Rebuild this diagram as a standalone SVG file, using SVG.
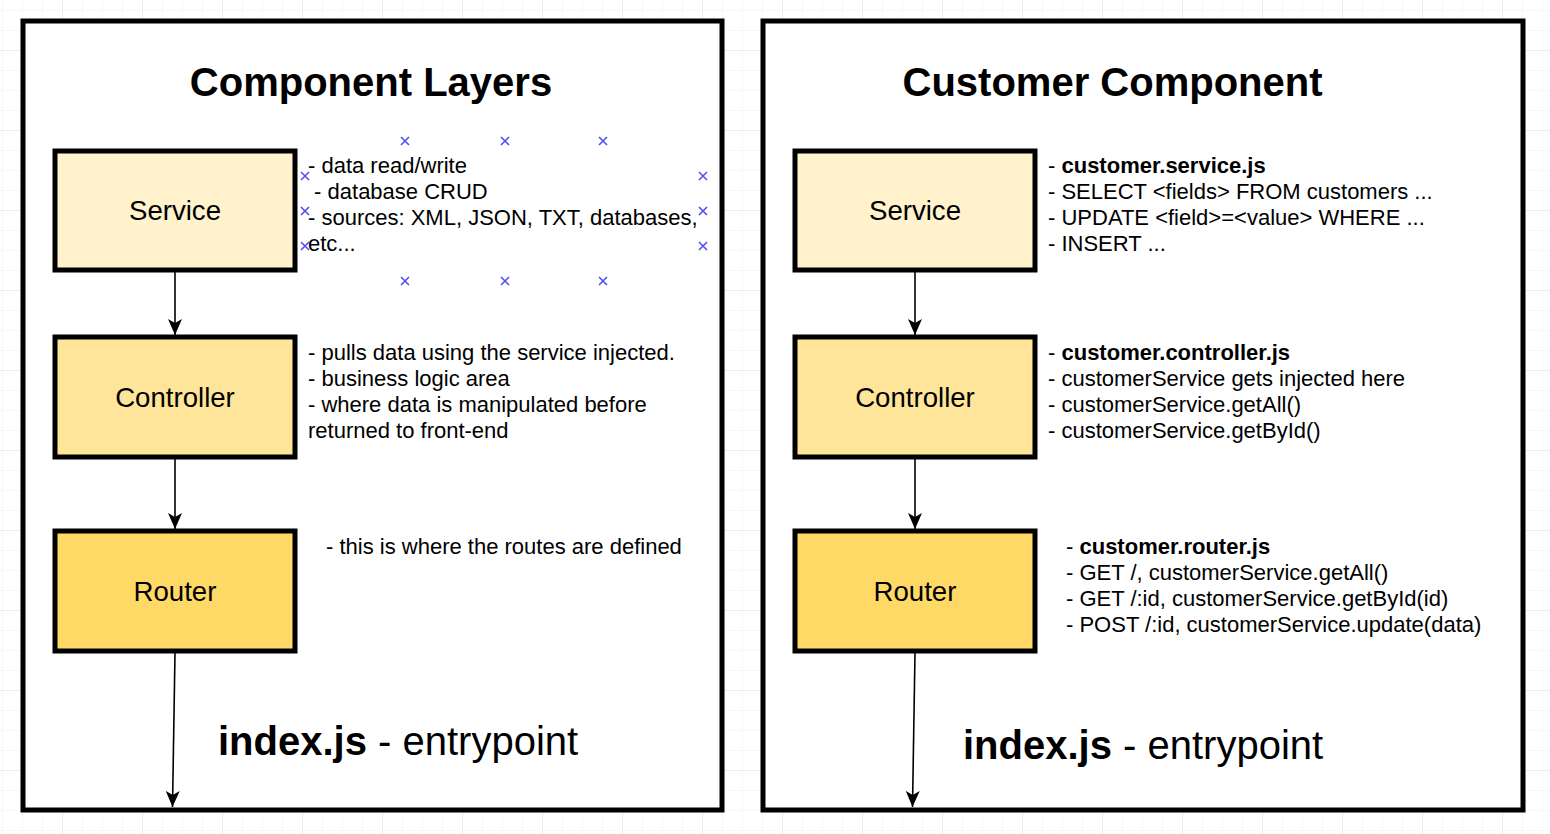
<svg xmlns="http://www.w3.org/2000/svg" width="1550" height="834" viewBox="0 0 1550 834">
<style>
  .frame { fill: #ffffff; stroke: #000000; stroke-width: 5; }
  .box { stroke: #000000; stroke-width: 5; }
  .svc { fill: #fff2cc; }
  .ctl { fill: #ffe599; }
  .rtr { fill: #ffd966; }
  text { font-family: "Liberation Sans", Arial, Helvetica, sans-serif; fill: #000000; }
  .title { font-size: 40px; font-weight: bold; text-anchor: middle; }
  .lbl { font-size: 27.6px; text-anchor: middle; }
  .desc { font-size: 22px; }
  .entry { font-size: 40px; }
  .b { font-weight: bold; }
  .conn { fill: none; stroke: #000000; stroke-width: 1.6; }
  .handle { fill: none; stroke: #4e4ef2; stroke-width: 1.6; }
</style>
<defs>
  <pattern id="gridMinor" patternUnits="userSpaceOnUse" x="2" y="10" width="20" height="20">
    <path d="M0,0 H20 M0,0 V20" fill="none" stroke="#f0f0f0" stroke-width="1"/>
  </pattern>
  <pattern id="gridMajor" patternUnits="userSpaceOnUse" x="62" y="50" width="80" height="80">
    <path d="M0,0 H80 M0,0 V80" fill="none" stroke="#e2e2e2" stroke-width="1"/>
  </pattern>
  <marker id="arrow" markerUnits="userSpaceOnUse" markerWidth="16" markerHeight="16" viewBox="0 0 16 16" refX="16" refY="8" orient="auto">
    <path d="M0,1 L16,8 L0,15 L4,8 Z" fill="#000000"/>
  </marker>
</defs>

<rect x="0" y="0" width="1550" height="834" fill="#ffffff"/>
<rect x="0" y="0" width="1550" height="834" fill="url(#gridMinor)"/>
<rect x="0" y="0" width="1550" height="834" fill="url(#gridMajor)"/>

<g id="frame-left">
  <rect class="frame" x="23" y="21" width="699" height="789"/>
  <text class="title" x="371" y="96">Component Layers</text>
</g>
<g id="frame-right">
  <rect class="frame" x="763" y="21" width="760" height="789"/>
  <text class="title" x="1112.5" y="96">Customer Component</text>
</g>

<g id="connectors">
  <path class="conn" d="M175,272 L175,335" marker-end="url(#arrow)"/>
  <path class="conn" d="M175,459 L175,529" marker-end="url(#arrow)"/>
  <path class="conn" d="M175,653 L172.5,807" marker-end="url(#arrow)"/>
  <path class="conn" d="M915,272 L915,335" marker-end="url(#arrow)"/>
  <path class="conn" d="M915,459 L915,529" marker-end="url(#arrow)"/>
  <path class="conn" d="M915,653 L912.5,807" marker-end="url(#arrow)"/>
</g>

<g id="service-left">
  <rect class="box svc" x="55" y="151" width="240" height="119"/>
  <text class="lbl" x="175" y="220">Service</text>
</g>
<g id="controller-left">
  <rect class="box ctl" x="55" y="337" width="240" height="120"/>
  <text class="lbl" x="175" y="407">Controller</text>
</g>
<g id="router-left">
  <rect class="box rtr" x="55" y="531" width="240" height="120"/>
  <text class="lbl" x="175" y="601">Router</text>
</g>

<g id="service-left-notes">
  <text class="desc" x="308" y="173">- data read/write</text>
  <text class="desc" x="308" y="199" xml:space="preserve"> - database CRUD</text>
  <text class="desc" x="308" y="225">- sources: XML, JSON, TXT, databases,</text>
  <text class="desc" x="308" y="251">etc...</text>
  <g id="selection-handles">
    <path class="handle" d="M401,137 l8,8 m0,-8 l-8,8"/>
    <path class="handle" d="M501,137 l8,8 m0,-8 l-8,8"/>
    <path class="handle" d="M599,137 l8,8 m0,-8 l-8,8"/>
    <path class="handle" d="M401,277 l8,8 m0,-8 l-8,8"/>
    <path class="handle" d="M501,277 l8,8 m0,-8 l-8,8"/>
    <path class="handle" d="M599,277 l8,8 m0,-8 l-8,8"/>
    <path class="handle" d="M301,172 l8,8 m0,-8 l-8,8"/>
    <path class="handle" d="M301,207 l8,8 m0,-8 l-8,8"/>
    <path class="handle" d="M301,242 l8,8 m0,-8 l-8,8"/>
    <path class="handle" d="M699,172 l8,8 m0,-8 l-8,8"/>
    <path class="handle" d="M699,207 l8,8 m0,-8 l-8,8"/>
    <path class="handle" d="M699,242 l8,8 m0,-8 l-8,8"/>
  </g>
</g>
<g id="controller-left-notes">
  <text class="desc" x="308" y="360">- pulls data using the service injected.</text>
  <text class="desc" x="308" y="386">- business logic area</text>
  <text class="desc" x="308" y="412">- where data is manipulated before</text>
  <text class="desc" x="308" y="438">returned to front-end</text>
</g>
<g id="router-left-notes">
  <text class="desc" x="326" y="554">- this is where the routes are defined</text>
</g>
<g id="entry-left">
  <text class="entry" x="218" y="755"><tspan class="b">index.js</tspan> - entrypoint</text>
</g>

<g id="service-right">
  <rect class="box svc" x="795" y="151" width="240" height="119"/>
  <text class="lbl" x="915" y="220">Service</text>
</g>
<g id="controller-right">
  <rect class="box ctl" x="795" y="337" width="240" height="120"/>
  <text class="lbl" x="915" y="407">Controller</text>
</g>
<g id="router-right">
  <rect class="box rtr" x="795" y="531" width="240" height="120"/>
  <text class="lbl" x="915" y="601">Router</text>
</g>

<g id="service-right-notes">
  <text class="desc" x="1048" y="173">- <tspan class="b">customer.service.js</tspan></text>
  <text class="desc" x="1048" y="199">- SELECT &lt;fields&gt; FROM customers ...</text>
  <text class="desc" x="1048" y="225">- UPDATE &lt;field&gt;=&lt;value&gt; WHERE ...</text>
  <text class="desc" x="1048" y="251">- INSERT ...</text>
</g>
<g id="controller-right-notes">
  <text class="desc" x="1048" y="360">- <tspan class="b">customer.controller.js</tspan></text>
  <text class="desc" x="1048" y="386">- customerService gets injected here</text>
  <text class="desc" x="1048" y="412">- customerService.getAll()</text>
  <text class="desc" x="1048" y="438">- customerService.getById()</text>
</g>
<g id="router-right-notes">
  <text class="desc" x="1066" y="554">- <tspan class="b">customer.router.js</tspan></text>
  <text class="desc" x="1066" y="580">- GET /, customerService.getAll()</text>
  <text class="desc" x="1066" y="606">- GET /:id, customerService.getById(id)</text>
  <text class="desc" x="1066" y="632">- POST /:id, customerService.update(data)</text>
</g>
<g id="entry-right">
  <text class="entry" x="963" y="759"><tspan class="b">index.js</tspan> - entrypoint</text>
</g>
</svg>
